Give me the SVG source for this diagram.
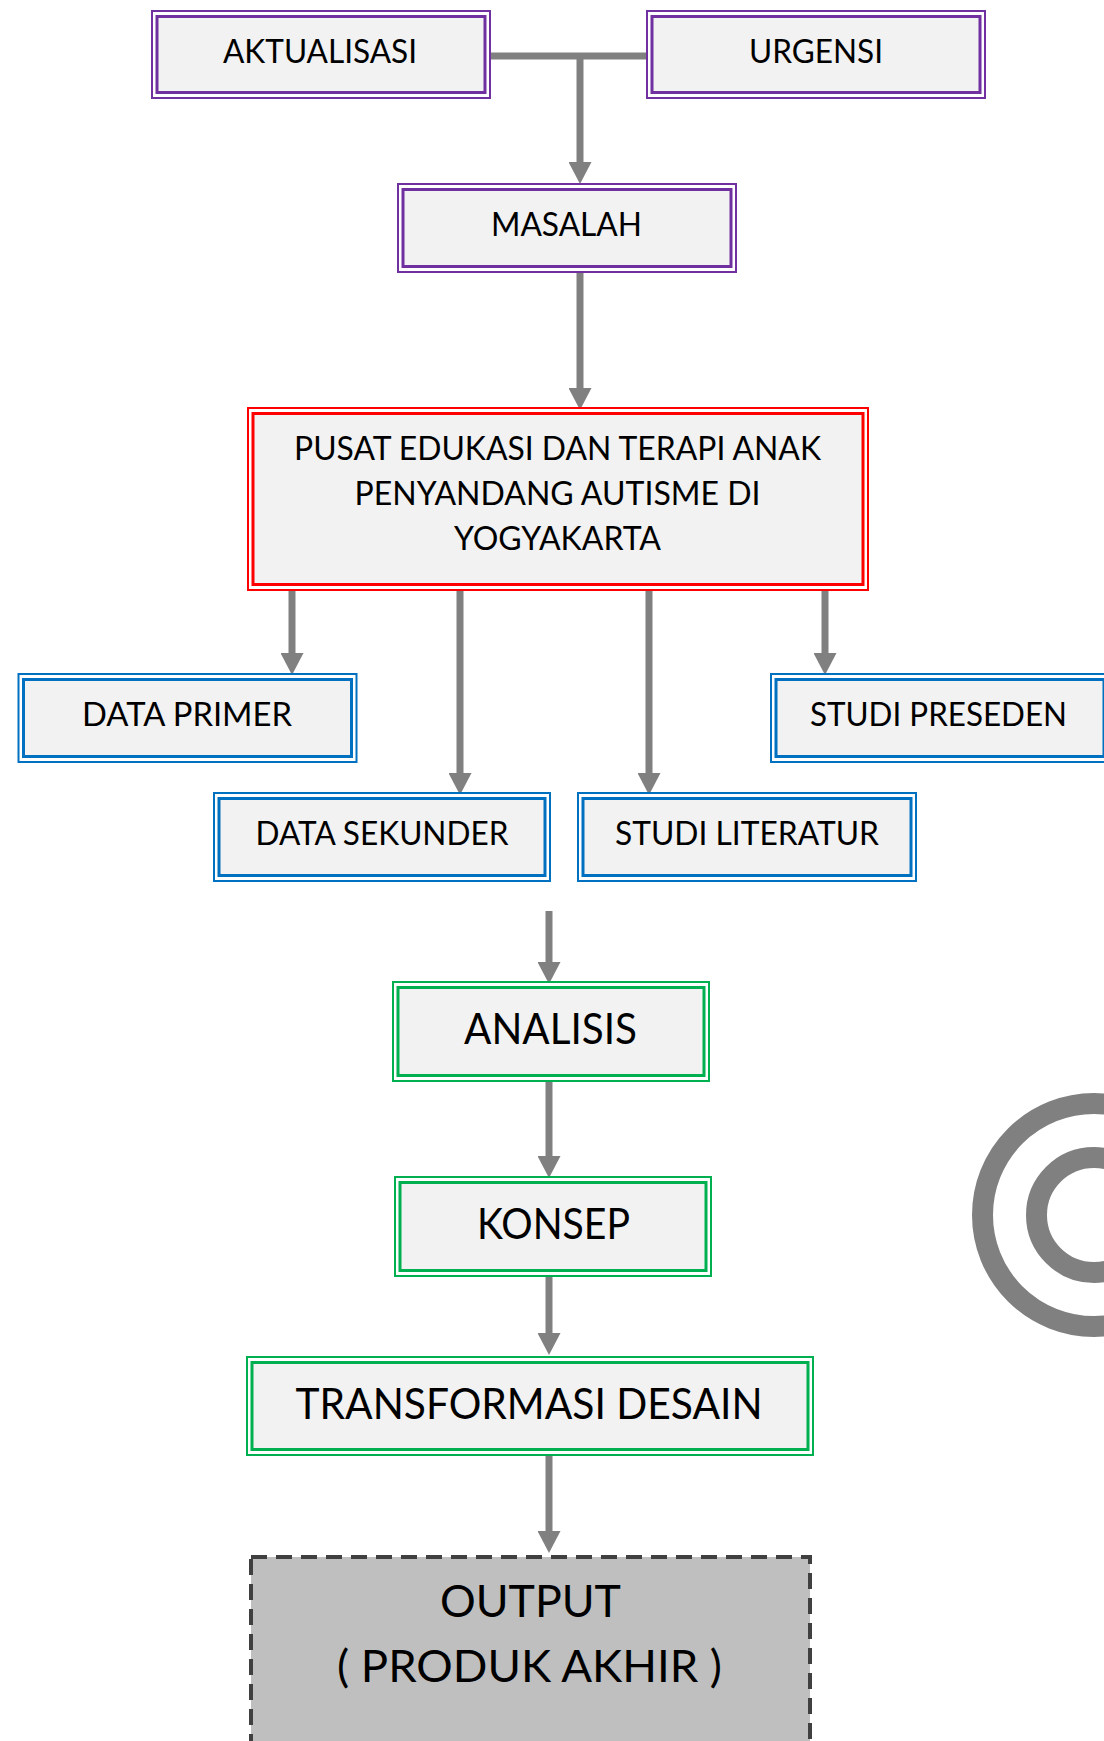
<svg xmlns="http://www.w3.org/2000/svg" width="1104" height="1741" viewBox="0 0 1104 1741">
<style>
.o{fill:#FFFFFF;stroke-width:2}
.i{fill:#F2F2F2;stroke-width:3}
.pu{stroke:#7030A0}
.rd{stroke:#FF0000}
.bl{stroke:#0070C0}
.gr{stroke:#00B050}
.t{font-family:Lato,"Open Sans","Liberation Sans",sans-serif;fill:#000;text-anchor:middle}
.s{font-size:32px}
.l{font-size:42px}
.x{font-size:45px}
.c{fill:none;stroke:#808080;stroke-width:7}
.ca{fill:none;stroke:#808080;stroke-width:7;marker-end:url(#ah)}
</style>
<defs>
<marker id="ah" markerUnits="userSpaceOnUse" markerWidth="22" markerHeight="23" viewBox="0 0 22 23" refX="0" refY="11.5" orient="auto">
<path d="M0,0 L22,11.5 L0,23 z" fill="#808080"/>
</marker>
</defs>
<rect width="1104" height="1741" fill="#FFFFFF"/>

<g id="rings" fill="none" stroke="#808080" stroke-width="21">
<circle cx="1094" cy="1215" r="111.5"/>
<circle cx="1094" cy="1215" r="57.5"/>
</g>

<g id="connectors">
<path class="c" d="M491,56 H646"/>
<path class="ca" d="M580,56 V162"/>
<path class="ca" d="M580,273 V388"/>
<path class="ca" d="M292,591 V653"/>
<path class="ca" d="M460,591 V773"/>
<path class="ca" d="M649,591 V773"/>
<path class="ca" d="M825,591 V653"/>
<path class="ca" d="M549,911 V962"/>
<path class="ca" d="M549,1082 V1156"/>
<path class="ca" d="M549,1277 V1333"/>
<path class="ca" d="M549,1456 V1531"/>
</g>

<g id="aktualisasi">
<rect class="o pu" x="152" y="11" width="338" height="87"/>
<rect class="i pu" x="157" y="16.5" width="328" height="76"/>
<text class="t s" x="320" y="63" textLength="194" lengthAdjust="spacingAndGlyphs">AKTUALISASI</text>
</g>
<g id="urgensi">
<rect class="o pu" x="647" y="11" width="338" height="87"/>
<rect class="i pu" x="652" y="16.5" width="328" height="76"/>
<text class="t s" x="816" y="63" textLength="134" lengthAdjust="spacingAndGlyphs">URGENSI</text>
</g>
<g id="masalah">
<rect class="o pu" x="398" y="184" width="338" height="88"/>
<rect class="i pu" x="403" y="189.5" width="328" height="77"/>
<text class="t s" x="566.5" y="236" textLength="151" lengthAdjust="spacingAndGlyphs">MASALAH</text>
</g>
<g id="pusat">
<rect class="o rd" x="248" y="408" width="620" height="182"/>
<rect class="i rd" x="253" y="413.5" width="610" height="171"/>
<text class="t s" x="557.5" y="460" textLength="527" lengthAdjust="spacingAndGlyphs">PUSAT EDUKASI DAN TERAPI ANAK</text>
<text class="t s" x="557.5" y="505" textLength="406" lengthAdjust="spacingAndGlyphs">PENYANDANG AUTISME DI</text>
<text class="t s" x="557.5" y="550" textLength="207" lengthAdjust="spacingAndGlyphs">YOGYAKARTA</text>
</g>
<g id="data-primer">
<rect class="o bl" x="18.5" y="674" width="338" height="88"/>
<rect class="i bl" x="23.5" y="679.5" width="328" height="77"/>
<text class="t s" x="187" y="726" textLength="210" lengthAdjust="spacingAndGlyphs">DATA PRIMER</text>
</g>
<g id="studi-preseden">
<rect class="o bl" x="771" y="674" width="338" height="88"/>
<rect class="i bl" x="776" y="679.5" width="328" height="77"/>
<text class="t s" x="938.5" y="726" textLength="257" lengthAdjust="spacingAndGlyphs">STUDI PRESEDEN</text>
</g>
<g id="data-sekunder">
<rect class="o bl" x="214" y="793" width="336" height="88"/>
<rect class="i bl" x="219" y="798.5" width="326" height="77"/>
<text class="t s" x="382" y="845" textLength="253" lengthAdjust="spacingAndGlyphs">DATA SEKUNDER</text>
</g>
<g id="studi-literatur">
<rect class="o bl" x="578" y="793" width="338" height="88"/>
<rect class="i bl" x="583" y="798.5" width="328" height="77"/>
<text class="t s" x="747" y="845" textLength="264" lengthAdjust="spacingAndGlyphs">STUDI LITERATUR</text>
</g>
<g id="analisis">
<rect class="o gr" x="393" y="982" width="316" height="99"/>
<rect class="i gr" x="398" y="987.5" width="306" height="88"/>
<text class="t l" x="550.5" y="1044" textLength="173" lengthAdjust="spacingAndGlyphs">ANALISIS</text>
</g>
<g id="konsep">
<rect class="o gr" x="395" y="1177" width="316" height="99"/>
<rect class="i gr" x="400" y="1182.5" width="306" height="88"/>
<text class="t l" x="553.5" y="1239" textLength="153" lengthAdjust="spacingAndGlyphs">KONSEP</text>
</g>
<g id="transformasi-desain">
<rect class="o gr" x="247" y="1357" width="566" height="98"/>
<rect class="i gr" x="252" y="1362.5" width="556" height="87"/>
<text class="t l" x="529" y="1419" textLength="467" lengthAdjust="spacingAndGlyphs">TRANSFORMASI DESAIN</text>
</g>
<g id="output">
<rect x="251" y="1557" width="559" height="200" fill="#BFBFBF" stroke="#404040" stroke-width="4" stroke-dasharray="16 9"/>
<text class="t x" x="530.5" y="1617" textLength="181" lengthAdjust="spacingAndGlyphs">OUTPUT</text>
<text class="t x" x="529.5" y="1682" textLength="385" lengthAdjust="spacingAndGlyphs">( PRODUK AKHIR )</text>
</g>
</svg>
